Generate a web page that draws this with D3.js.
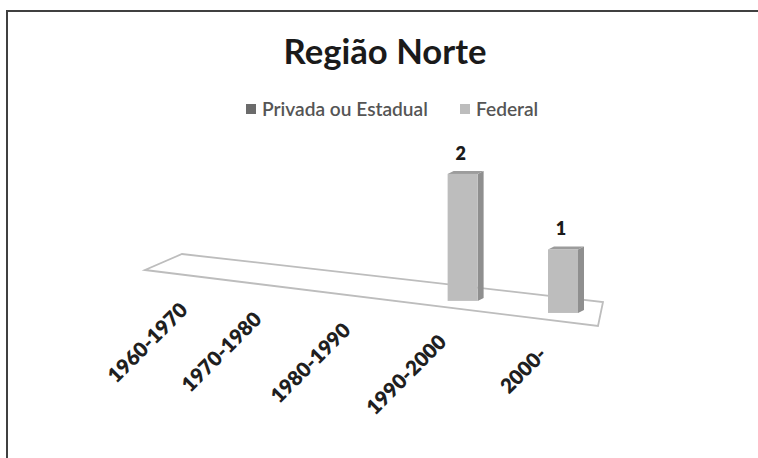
<!DOCTYPE html>
<html>
<head>
<meta charset="utf-8">
<script src="https://cdn.jsdelivr.net/npm/d3@7"></script>
<style>
  html, body { margin: 0; padding: 0; background: #fff; }
  svg { display: block; }
</style>
</head>
<body>
<svg id="chart" width="758" height="458"></svg>
<script>
const title = 'Região Norte';
const categories = ['1960-1970', '1970-1980', '1980-1990', '1990-2000', '2000-'];
const seriesNames = ['Privada ou Estadual', 'Federal'];
const privada = [0, 0, 0, 0, 0];
const federal = [0, 0, 0, 2, 1];

const font = 'Lato, "Open Sans", sans-serif';
const colors = {privada: '#6b6b6b', federal: '#bdbdbd'};

const svg = d3.select('#chart');

// frame, only the top and left edges are inside the picture
svg.append('path')
  .attr('d', 'M7,458 V11 H758')
  .attr('fill', 'none')
  .attr('stroke', '#404040')
  .attr('stroke-width', 2);

// title, shrunk to the width it has in the reference
const t = svg.append('text')
  .attr('x', 385).attr('y', 64)
  .attr('text-anchor', 'middle')
  .attr('font-family', font)
  .attr('font-weight', 700)
  .attr('font-size', 30)
  .attr('fill', '#1a1a1a')
  .text(title);
const tw = t.node().getComputedTextLength();
t.attr('font-size', 30 * 203 / tw);

// legend
const legend = svg.append('g').attr('font-family', font).attr('font-size', 17)
  .attr('font-weight', 600);
const legendX = [246, 460];
seriesNames.forEach((name, i) => {
  const g = legend.append('g').attr('transform', `translate(${legendX[i]},104)`);
  g.append('rect').attr('width', 10).attr('height', 10)
    .attr('fill', i === 0 ? colors.privada : colors.federal);
  g.append('text').attr('x', 16).attr('y', 11.5)
    .attr('fill', '#555').text(name);
});
// fit the first legend entry to its width in the reference
const lt = legend.select('text').node().getComputedTextLength();
legend.attr('font-size', 17 * 166 / lt);

// floor of the 3d plot, front and back edges as linear scales of x
const frontY = d3.scaleLinear().domain([145, 598]).range([270, 326]);
const backY = d3.scaleLinear().domain([182, 603]).range([254, 302]);
const baseY = (x, v) => frontY(x) + (backY(x) - frontY(x)) * v;

svg.append('path')
  .attr('d', d3.line()([
    [145, frontY(145)], [598, frontY(598)],
    [603, backY(603)], [182, backY(182)]
  ]) + 'Z')
  .attr('fill', 'none')
  .attr('stroke', '#bdbdbd')
  .attr('stroke-width', 1.8);

// categories get closer together towards the back-left (perspective)
const catX = d3.scalePow().exponent(1.14).domain([0, categories.length - 1]).range([205, 564]);
const h = d3.scaleLinear().domain([0, 2]).range([0, 127]);

const halfW = 15, dx = 6, dy = 3, depth = 0.36;

const bars = federal.map((v, i) => ({v, i, cx: catX(i) - 1}))
  .filter(d => d.v > 0);

const bg = svg.selectAll('g.bar').data(bars).join('g').attr('class', 'bar');
bg.each(function(d) {
  const g = d3.select(this);
  const b = baseY(d.cx, depth);
  const top = b - h(d.v);
  const l = d.cx - halfW, r = d.cx + halfW;
  // side face
  g.append('path')
    .attr('d', d3.line()([[r, b], [r, top], [r + dx, top - dy], [r + dx, b - dy]]) + 'Z')
    .attr('fill', '#8f8f8f');
  // top face
  g.append('path')
    .attr('d', d3.line()([[l, top], [r, top], [r + dx, top - dy], [l + dx, top - dy]]) + 'Z')
    .attr('fill', '#9c9c9c');
  // front face
  g.append('rect')
    .attr('x', l).attr('y', top)
    .attr('width', r - l).attr('height', b - top)
    .attr('fill', colors.federal);
  // value label
  g.append('text')
    .attr('x', d.cx - 2).attr('y', top - 14)
    .attr('text-anchor', 'middle')
    .attr('font-family', font).attr('font-weight', 800).attr('font-size', 18)
    .attr('fill', '#1a1a1a')
    .text(d.v);
});

// category labels, rotated
svg.append('g').selectAll('text').data(categories).join('text')
  .attr('transform', (c, i) => {
    const x = catX(i) - 16;
    return `translate(${x},${frontY(catX(i)) + 34}) rotate(-45)`;
  })
  .attr('text-anchor', 'end')
  .attr('font-family', font).attr('font-weight', 800).attr('font-size', 20.5)
  .attr('fill', '#1f1f1f')
  .text(c => c);
</script>
</body>
</html>
